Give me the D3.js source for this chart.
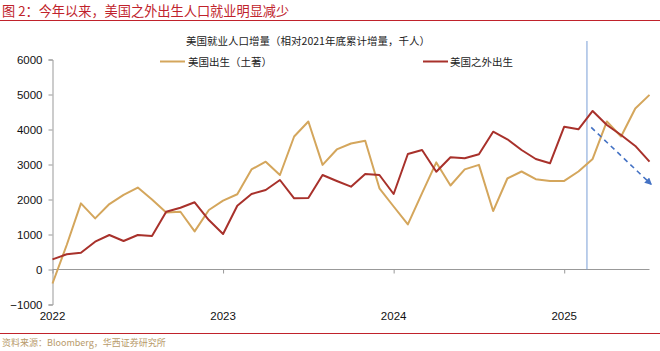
<!DOCTYPE html>
<html><head><meta charset="utf-8">
<script src="https://cdn.jsdelivr.net/npm/d3@7"></script>
<style>
body{margin:0;background:#fff;}
svg{display:block;font-family:"Liberation Sans",Arial,sans-serif;}
.cjk{font-family:"Noto Sans CJK SC","Liberation Sans",sans-serif;}
</style></head>
<body><svg id="c" width="660" height="351"></svg>
<script>
const months = d3.range(43); // Jan 2022 .. Jul 2025 (month index)
const yearTicks = [0, 12, 24, 36];
const yearLabels = ["2022", "2023", "2024", "2025"];
const yTicks = [-1000, 0, 1000, 2000, 3000, 4000, 5000, 6000];
const nativeBorn = [-400, 700, 1890, 1460, 1870, 2130, 2340, 2000, 1630, 1650, 1090,
  1700, 1966, 2150, 2860, 3080, 2700, 3800, 4230, 2990, 3430, 3600,
  3680, 2320, 1800, 1290, 2180, 3060, 2400, 2860, 2990, 1670,
  2600, 2800, 2580, 2530, 2530, 2800, 3160, 4230, 3800, 4600, 4990];
const foreignBorn = [290, 434, 480, 795, 985, 814, 985, 957, 1650, 1766, 1920,
  1414, 1014, 1823, 2157, 2271, 2557, 2034, 2040, 2700, 2529, 2366,
  2729, 2700, 2157, 3300, 3414, 2794, 3206, 3177, 3291, 3937,
  3720, 3414, 3157, 3034, 4080, 4005, 4530, 4130, 3843, 3530, 3080];
const seriesNames = ["美国出生（土著）", "美国之外出生"];
const markerIndex = 37.6;
const trendArrow = [[37.9, 4060], [42.1, 2440]];

const svg = d3.select("#c");
const x = d3.scaleLinear().domain([0, 42]).range([52.5, 649.5]);
const y = d3.scaleLinear().domain([-1000, 6000]).range([304.5, 59.5]);

// header
svg.append("text").attr("class","cjk").attr("x",2).attr("y",16)
  .attr("font-size",13.2).attr("fill","#c0222b").text("图 2：今年以来，美国之外出生人口就业明显减少");
svg.append("line").attr("x1",0).attr("x2",660).attr("y1",20.5).attr("y2",20.5)
  .attr("stroke","#c0222b").attr("stroke-width",1.2);
// footer
svg.append("line").attr("x1",0).attr("x2",660).attr("y1",333.5).attr("y2",333.5)
  .attr("stroke","#c0222b").attr("stroke-width",1.2);
svg.append("text").attr("class","cjk").attr("x",2).attr("y",346)
  .attr("font-size",9).attr("fill","#b89a6a").text("资料来源：Bloomberg，华西证券研究所");

// chart title
svg.append("text").attr("class","cjk").attr("x",308).attr("y",45).attr("text-anchor","middle")
  .attr("font-size",10.5).attr("fill","#222").text("美国就业人口增量（相对2021年底累计增量，千人）");

// y axis
const yAxis = d3.axisLeft(y).tickValues(yTicks).tickSize(4).tickPadding(6).tickFormat(d3.format("d"));
const gy = svg.append("g").attr("transform","translate(52.5,0)").call(yAxis);
gy.select(".domain").attr("stroke","#999");
gy.selectAll(".tick line").attr("stroke","#999");
gy.selectAll(".tick text").attr("font-size",11.5).attr("fill","#111")
  .attr("font-family","'Liberation Sans',Arial,sans-serif");

// x axis on zero line
const xAxis = d3.axisBottom(x).tickValues(yearTicks).tickSize(4).tickFormat(() => "");
const gx = svg.append("g").attr("transform",`translate(0,${y(0)})`).call(xAxis);
gx.select(".domain").attr("stroke","#999").attr("d",`M${x(0)},0H${x(42)}`);
gx.selectAll(".tick line").attr("stroke","#999");
svg.selectAll(".ylab").data(yearTicks).enter().append("text")
  .attr("x",d=>x(d)).attr("y",320).attr("text-anchor","middle")
  .attr("font-size",11.5).attr("fill","#111").text((d,i)=>yearLabels[i]);

// vertical marker
svg.append("line").attr("x1",x(markerIndex)).attr("x2",x(markerIndex))
  .attr("y1",41).attr("y2",y(0)).attr("stroke","#7a9fd6").attr("stroke-width",1);

const line = d3.line().x((d,i)=>x(months[i])).y(d=>y(d));
svg.append("path").datum(nativeBorn).attr("d",line).attr("fill","none")
  .attr("stroke","#d4a65c").attr("stroke-width",2).attr("stroke-linejoin","round");
svg.append("path").datum(foreignBorn).attr("d",line).attr("fill","none")
  .attr("stroke","#a8312b").attr("stroke-width",2).attr("stroke-linejoin","round");

// dashed arrow
svg.append("defs").append("marker").attr("id","ah").attr("viewBox","0 0 10 10")
  .attr("refX",8).attr("refY",5).attr("markerWidth",4.5).attr("markerHeight",4.5)
  .attr("orient","auto").append("path").attr("d","M0,0L10,5L0,10z").attr("fill","#4472c4");
svg.append("line").attr("x1",x(trendArrow[0][0])).attr("y1",y(trendArrow[0][1]))
  .attr("x2",x(trendArrow[1][0])).attr("y2",y(trendArrow[1][1]))
  .attr("stroke","#4472c4").attr("stroke-width",1.6).attr("stroke-dasharray","5,4")
  .attr("marker-end","url(#ah)");

// legend
const legend = [{x1:160,x2:185,tx:188,c:"#d4a65c"},{x1:423,x2:448,tx:450,c:"#a8312b"}];
legend.forEach((l,i)=>{
  svg.append("line").attr("x1",l.x1).attr("x2",l.x2).attr("y1",61.5).attr("y2",61.5)
    .attr("stroke",l.c).attr("stroke-width",2);
  svg.append("text").attr("class","cjk").attr("x",l.tx).attr("y",65.5)
    .attr("font-size",10.5).attr("fill","#222").text(seriesNames[i]);
});
</script></body></html>
